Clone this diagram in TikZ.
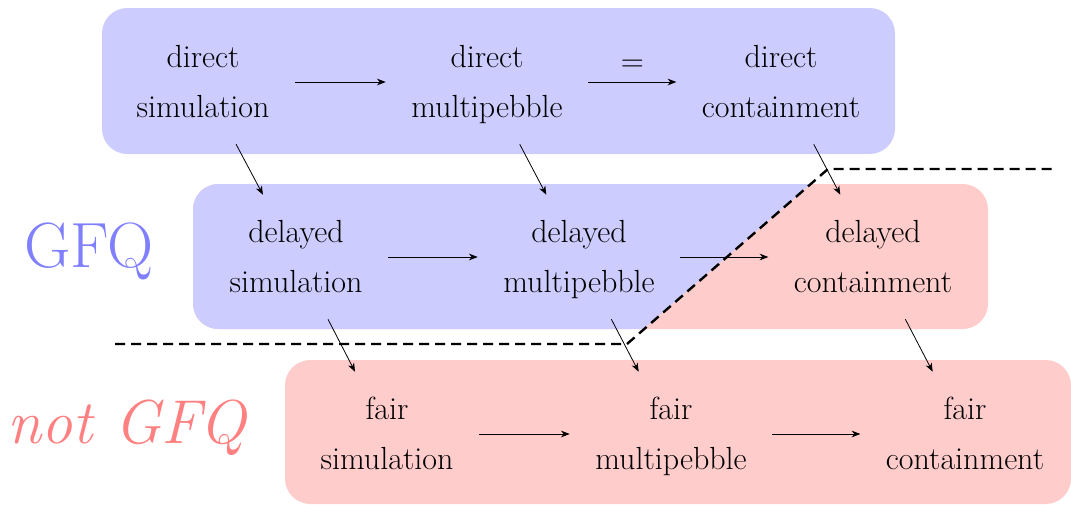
\documentclass[tikz,border=0pt]{standalone}
\usetikzlibrary{arrows.meta}
\begin{document}
\begin{tikzpicture}[x=0.75pt,y=-0.75pt,
  lbl/.style={align=center,font=\rmfamily\fontsize{24}{37.5}\selectfont,inner xsep=19pt,inner ysep=9pt},
  arr/.style={-{Stealth[length=6.5pt,width=5pt,inset=2pt]}, line width=0.6pt},
  sepline/.style={line width=1.8pt, dash pattern=on 7.5pt off 4.5pt},
  boxb/.style={fill=blue!20, rounded corners=19pt},
  boxr/.style={fill=red!20, rounded corners=19pt}]
\useasboundingbox (0,0) rectangle (1071,504);
% boxes
\fill[boxb] (102,8) rectangle (895,154);
\fill[boxr] (193,184) rectangle (988,329);
\begin{scope}
  \clip (0,169) -- (828,169) -- (627,343) -- (0,343) -- cycle;
  \fill[boxb] (193,184) rectangle (988,329);
\end{scope}
\fill[boxr] (285,360) rectangle (1071,504);
% separator
\coordinate (s1) at (115,344);
\coordinate (s2) at (627,344);
\coordinate (s3) at (828,169);
\coordinate (s4) at (1056,169);
\draw[sepline] (s1) -- (s2) -- (s3) -- (s4);
% nodes
\node[lbl] (ds) at (203,82) {\strut direct\\\strut simulation};
\node[lbl] (dm) at (487,82) {\strut direct\\\strut multipebble};
\node[lbl] (dc) at (781,82) {\strut direct\\\strut containment};
\node[lbl] (ys) at (296,257) {\strut delayed\\\strut simulation};
\node[lbl] (ym) at (579,257) {\strut delayed\\\strut multipebble};
\node[lbl] (yc) at (873,257) {\strut delayed\\\strut containment};
\node[lbl] (fs) at (387,434) {\strut fair\\\strut simulation};
\node[lbl] (fm) at (671,434) {\strut fair\\\strut multipebble};
\node[lbl] (fc) at (965,434) {\strut fair\\\strut containment};
\node[text=blue!50, font=\rmfamily\fontsize{48}{50}\selectfont] (gfq) at (89,251) {GFQ};
\node[text=red!50, font=\rmfamily\fontsize{46.5}{50}\selectfont\itshape] (ngfq) at (127,428) {not GFQ};
% arrows
\draw[arr] (ds) -- (dm);
\draw[arr] (dm) -- node[above=4pt, font=\rmfamily\fontsize{24}{30}\selectfont] {=} (dc);
\draw[arr] (ys) -- (ym);
\draw[arr] (ym) -- (yc);
\draw[arr] (fs) -- (fm);
\draw[arr] (fm) -- (fc);
\draw[arr] (ds) -- (ys);
\draw[arr] (dm) -- (ym);
\draw[arr] (dc) -- (yc);
\draw[arr] (ys) -- (fs);
\draw[arr] (ym) -- (fm);
\draw[arr] (yc) -- (fc);
\end{tikzpicture}
\end{document}
